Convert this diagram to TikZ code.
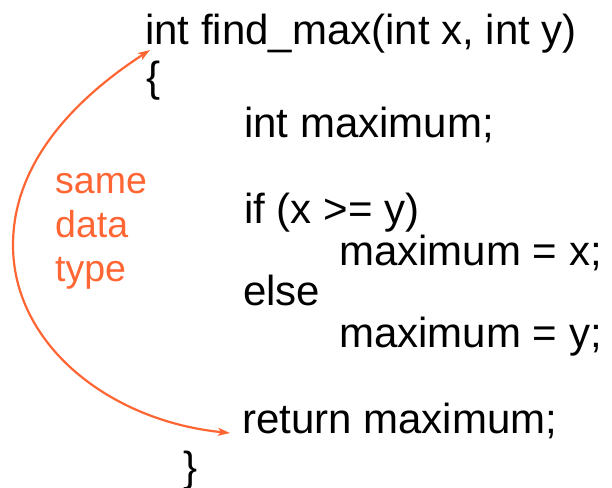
\documentclass[tikz,border=0pt]{standalone}
\usepackage{fontspec}
\setmainfont{Liberation Sans}
\usetikzlibrary{arrows.meta}
\definecolor{accent}{RGB}{255,102,51}
\tikzset{
  code/.style={inner sep=0pt, anchor=base west, font=\fontsize{42}{50}\selectfont},
  note/.style={inner sep=0pt, anchor=base west, text=accent, font=\fontsize{37.5}{44}\selectfont},
  arc/.style={draw=accent, line width=2.2pt, {Stealth[length=12pt,width=8pt,inset=3pt]}-{Stealth[length=12pt,width=8pt,inset=3pt]}}
}
\begin{document}
\begin{tikzpicture}[x=1pt,y=-1pt]
\useasboundingbox[fill=white] (0,0) rectangle (612,487);
% function source
\node[code] (sig)  at (145,45)  {int find\_max(int x, int y)};
\node[code] (open) at (146,91)  {\{};
\node[code] (decl) at (244,137) {int maximum;};
\node[code] (cond) at (244,223) {if (x >= y)};
\node[code] (setx) at (339,265) {maximum = x;};
\node[code] (alt)  at (243,305) {else};
\node[code] (sety) at (339,347) {maximum = y;};
\node[code] (ret)  at (242,433) {return maximum;};
\node[code] (close) at (183,481) {\}};
% label and the curved double arrow
\node[note] (l1) at (55,193) {same};
\node[note] (l2) at (55,237) {data};
\node[note] (l3) at (55,281) {type};
\coordinate (sigtip) at (150,50);
\coordinate (rettip) at (230,433);
\coordinate (bend) at (13,245);
\draw[arc] (rettip) .. controls (110,421) and (13,345) .. (bend)
                    .. controls (13,155) and (87,91) .. (sigtip);
\end{tikzpicture}
\end{document}
